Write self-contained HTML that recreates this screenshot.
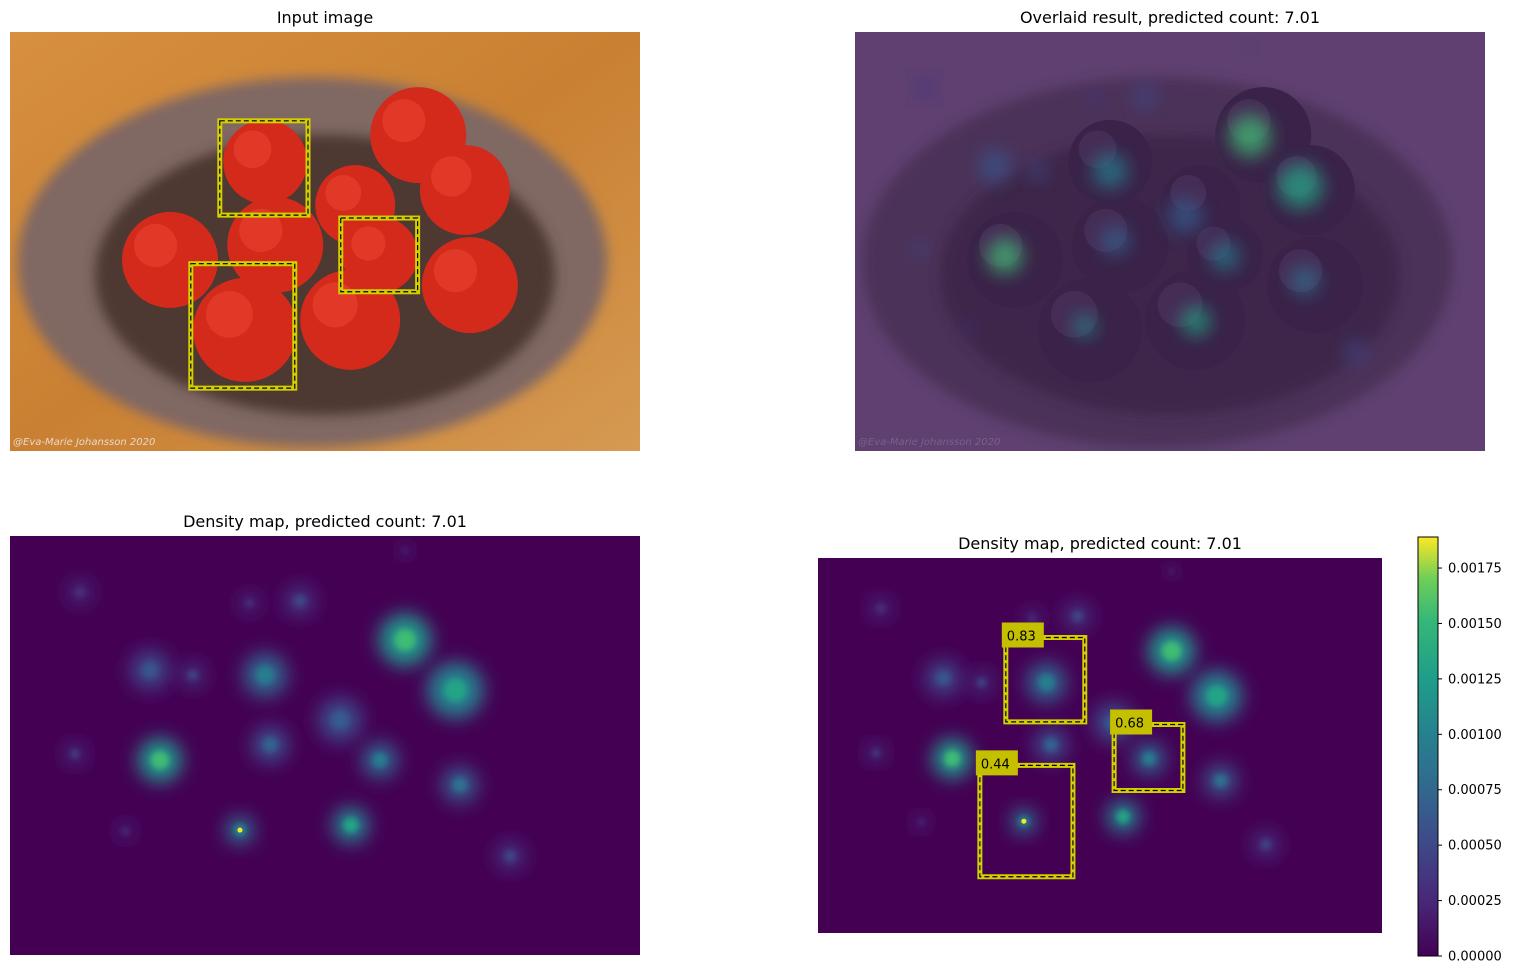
<!DOCTYPE html>
<html><head><meta charset="utf-8"><style>
body{margin:0;background:#fff;font-family:"Liberation Sans","DejaVu Sans",sans-serif}
svg text{font-family:"DejaVu Sans","Liberation Sans",sans-serif}
</style></head><body>
<svg id="fig" width="1514" height="974" xmlns="http://www.w3.org/2000/svg">
<defs>
<filter id="blur" x="-50%" y="-50%" width="200%" height="200%"><feGaussianBlur stdDeviation="9"/></filter>
<filter id="blur2" x="-50%" y="-50%" width="200%" height="200%"><feGaussianBlur stdDeviation="3"/></filter>
<filter id="blurP" x="-20%" y="-20%" width="140%" height="140%"><feGaussianBlur stdDeviation="6"/></filter>
<linearGradient id="wood" x1="0" y1="0" x2="1" y2="1"><stop offset="0" stop-color="#d7903f"/><stop offset="0.5" stop-color="#c98032"/><stop offset="1" stop-color="#d69a52"/></linearGradient>
<linearGradient id="cbar" x1="0" y1="1" x2="0" y2="0">
<stop offset="0" stop-color="#440154"/><stop offset="0.133" stop-color="#482878"/><stop offset="0.266" stop-color="#3e4989"/><stop offset="0.4" stop-color="#31688e"/><stop offset="0.533" stop-color="#26828e"/><stop offset="0.666" stop-color="#1f9e89"/><stop offset="0.8" stop-color="#35b779"/><stop offset="0.9" stop-color="#6ece58"/><stop offset="1" stop-color="#fde725"/></linearGradient>
<clipPath id="c1"><rect x="10" y="32" width="630" height="419"/></clipPath>
<clipPath id="c2"><rect x="855" y="32" width="630" height="419"/></clipPath>
<clipPath id="c3"><rect x="10" y="536" width="630" height="419"/></clipPath>
<clipPath id="c4"><rect x="818" y="558" width="564" height="375"/></clipPath>
</defs>
<text x="325" y="23" text-anchor="middle" font-size="16">Input image</text>
<text x="1170" y="23" text-anchor="middle" font-size="16">Overlaid result, predicted count: 7.01</text>
<text x="325" y="527" text-anchor="middle" font-size="16">Density map, predicted count: 7.01</text>
<text x="1100" y="549" text-anchor="middle" font-size="16">Density map, predicted count: 7.01</text>
<g id="p1" clip-path="url(#c1)"></g>
<g id="p2" clip-path="url(#c2)"></g>
<g id="p3" clip-path="url(#c3)"></g>
<g id="p4" clip-path="url(#c4)"></g>
<g id="boxes"></g>
<g id="colorbar">
<rect x="1418" y="537" width="20" height="419" fill="url(#cbar)" stroke="#000" stroke-width="1"/>
</g>
</svg>
<script>
// density blobs in normalized image coords
const blobX=[0.627,0.707,0.405,0.238,0.365,0.541,0.587,0.413,0.524,0.714,0.222,0.290,0.111,0.460,0.794,0.103,0.183,0.627,0.38];
const blobY=[0.248,0.368,0.332,0.535,0.702,0.690,0.535,0.498,0.439,0.594,0.320,0.332,0.134,0.155,0.764,0.520,0.704,0.035,0.16];
const blobR=[26,28,22,22,14,18,18,18,22,18,20,12,12,15,14,10,8,6,10];
const blobV=[0.0013,0.0011,0.0008,0.0013,0.0009,0.0011,0.0008,0.0006,0.00055,0.0007,0.0005,0.0004,0.0003,0.0004,0.0004,0.0004,0.0003,0.0003,0.0003];
const peakX=[0.365],peakY=[0.702],peakV=[0.0019];
const cbTicks=[0,0.00025,0.0005,0.00075,0.001,0.00125,0.0015,0.00175];
const cbLabels=["0.00000","0.00025","0.00050","0.00075","0.00100","0.00125","0.00150","0.00175"];
const vmax=0.00189;
// strawberries normalized
const berryX=[0.405,0.648,0.722,0.548,0.254,0.421,0.587,0.730,0.373,0.540];
const berryY=[0.310,0.246,0.377,0.413,0.544,0.508,0.532,0.604,0.711,0.687];
const berryR=[42,48,45,40,48,48,38,48,52,50];
// boxes in normalized image coords + scores
const boxX0=[0.333,0.525,0.287],boxY0=[0.212,0.444,0.553],boxX1=[0.473,0.647,0.452],boxY1=[0.437,0.620,0.850];
const boxScore=["0.83","0.68","0.44"];

const NS="http://www.w3.org/2000/svg";
function mk(t,a,p){const e=document.createElementNS(NS,t);for(const k in a)e.setAttribute(k,a[k]);p.appendChild(e);return e;}
const vs=[[68,1,84],[72,40,120],[62,73,137],[49,104,142],[38,130,142],[31,158,137],[53,183,121],[110,206,88],[181,222,43],[253,231,37]];
function viridis(t){t=Math.max(0,Math.min(1,t));const f=t*(vs.length-1),i=Math.min(vs.length-2,Math.floor(f)),u=f-i;const c=vs[i].map((v,k)=>Math.round(v+(vs[i+1][k]-v)*u));return `rgb(${c})`;}
const panels={p1:[10,32,630,419],p2:[855,32,630,419],p3:[10,536,630,419],p4:[818,558,564,375]};

function photo(id,overlay){
  const [x,y,w,h]=panels[id],g=document.getElementById(id),s=w/630;
  mk('rect',{x,y,width:w,height:h,fill:overlay?'#5f4070':'url(#wood)'},g);
  const bowl=mk('ellipse',{cx:x+0.48*w,cy:y+0.55*h,rx:295*s,ry:185*s,fill:overlay?'#4c3258':'#806864',filter:'url(#blurP)'},g);
  
  
  mk('ellipse',{cx:x+0.50*w,cy:y+0.58*h,rx:230*s,ry:140*s,fill:overlay?'#3d2549':'#4e3833',filter:'url(#blurP)'},g);
  for(let i=0;i<berryX.length;i++){
    const c=mk('circle',{cx:x+berryX[i]*w,cy:y+berryY[i]*h,r:berryR[i]*s,fill:overlay?'#3a2248':'#d42a1c'},g);
    
    
    mk('circle',{cx:x+berryX[i]*w-berryR[i]*0.3*s,cy:y+berryY[i]*h-berryR[i]*0.3*s,r:berryR[i]*0.45*s,fill:overlay?'#4e3560':'#ea4430',opacity:0.6},g);
  }
  if(overlay){
    for(let i=0;i<blobX.length;i++){
      mk('circle',{cx:x+blobX[i]*w,cy:y+blobY[i]*h,r:blobR[i]*0.8*s,fill:viridis(blobV[i]/vmax),opacity:0.75,filter:'url(#blur)'},g);
    }
  }
  const t=mk('text',{x:x+3,y:y+h-6,'font-size':10,fill:overlay?'#7a6088':'#e8d8c8','font-style':'italic'},g);
  t.textContent='@Eva-Marie Johansson 2020';
}
function density(id){
  const [x,y,w,h]=panels[id],g=document.getElementById(id),s=w/630;
  mk('rect',{x,y,width:w,height:h,fill:'#440154'},g);
  for(let i=0;i<blobX.length;i++){
    const c=mk('circle',{cx:x+blobX[i]*w,cy:y+blobY[i]*h,r:blobR[i]*s,fill:viridis(blobV[i]/vmax*0.75),filter:'url(#blur)'},g);
    
    
    mk('circle',{cx:x+blobX[i]*w,cy:y+blobY[i]*h,r:blobR[i]*0.4*s,fill:viridis(blobV[i]/vmax),filter:'url(#blur2)'},g);
  }
  for(let i=0;i<peakX.length;i++){
    const c=mk('circle',{cx:x+peakX[i]*w,cy:y+peakY[i]*h,r:2.5,fill:viridis(peakV[i]/vmax)},g);
    
    
  }
}
photo('p1',false);photo('p2',true);density('p3');density('p4');

function boxes(id,labels){
  const [x,y,w,h]=panels[id],g=document.getElementById('boxes');
  for(let i=0;i<boxX0.length;i++){
    const bx=x+boxX0[i]*w,by=y+boxY0[i]*h,bw=(boxX1[i]-boxX0[i])*w,bh=(boxY1[i]-boxY0[i])*h;
    const r=mk('rect',{x:bx,y:by,width:bw,height:bh,fill:'none',stroke:'#d4d000','stroke-width':5},g);
    
    
    mk('rect',{x:bx,y:by,width:bw,height:bh,fill:'none',stroke:'#000','stroke-width':1.2,'stroke-dasharray':'5,3'},g);
    if(labels){
      const lb=mk('rect',{x:bx-4,y:by-15,width:42,height:25,fill:'#c4c000'},g);
      
      
      const t=mk('text',{x:bx+1,y:by+3,'font-size':13,fill:'#000'},g);
      t.textContent=boxScore[i];
    }
  }
}
boxes('p1',false);boxes('p4',true);

const cb=document.getElementById('colorbar');
for(let i=0;i<cbTicks.length;i++){
  const ty=956-cbTicks[i]/vmax*419;
  mk('line',{x1:1438,y1:ty,x2:1442,y2:ty,stroke:'#000'},cb);
  const t=mk('text',{x:1448,y:ty+4.5,'font-size':13},cb);
  
  
  t.textContent=cbLabels[i];
}
</script>
</body></html>
